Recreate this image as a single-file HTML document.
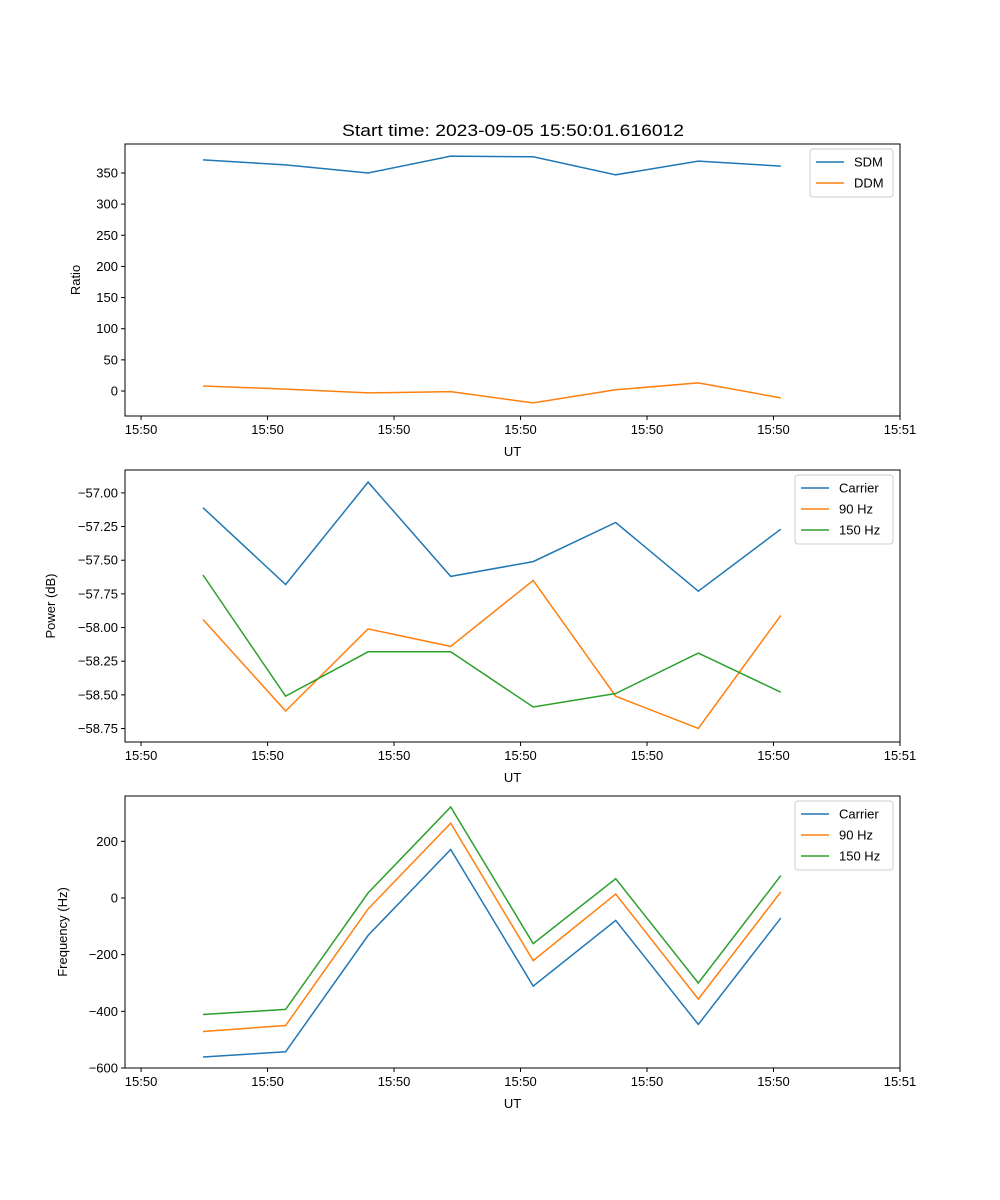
<!DOCTYPE html>
<html><head><meta charset="utf-8"><style>
html,body{margin:0;padding:0;background:#fff;}
svg{display:block;font-family:"Liberation Sans","DejaVu Sans",sans-serif;}
</style></head><body>
<svg id="fig" width="1000" height="1200" xmlns="http://www.w3.org/2000/svg">
<text x="513" y="136" font-size="17" text-anchor="middle" textLength="342" lengthAdjust="spacingAndGlyphs">Start time: 2023-09-05 15:50:01.616012</text>
</svg>
<script>
// shared x data (seconds relative to first tick)
const times = [4.9, 11.41, 17.92, 24.43, 30.94, 37.45, 43.96, 50.47];
const xTickVals = [0, 10, 20, 30, 40, 50, 60];
const xTickLabels = ["15:50","15:50","15:50","15:50","15:50","15:50","15:51"];

const sdm = [371, 363, 350, 377, 376, 347, 369, 361];
const ddm = [8, 3, -3, -1, -19, 2, 13, -11];
const ratioTicks = [0, 50, 100, 150, 200, 250, 300, 350];

const powCarrier = [-57.11, -57.68, -56.92, -57.62, -57.51, -57.22, -57.73, -57.27];
const pow90 = [-57.94, -58.62, -58.01, -58.14, -57.65, -58.51, -58.75, -57.91];
const pow150 = [-57.61, -58.51, -58.18, -58.18, -58.59, -58.49, -58.19, -58.48];
const powTicks = [-57.00, -57.25, -57.50, -57.75, -58.00, -58.25, -58.50, -58.75];

const freqCarrier = [-561, -543, -132, 171, -311, -79, -446, -71];
const freq90 = [-471, -450, -39, 264, -221, 14, -357, 21];
const freq150 = [-411, -393, 18, 321, -161, 68, -300, 79];
const freqTicks = [-600, -400, -200, 0, 200];

const NS = "http://www.w3.org/2000/svg";
const svg = document.getElementById("fig");
function mk(tag, attrs, parent){const e=document.createElementNS(NS,tag);for(const k in attrs)e.setAttribute(k,attrs[k]);(parent||svg).appendChild(e);return e;}

const L=125,R=900;
const xMin=-1.27, xMax=60;
function xs(t){return L+(t-xMin)/(xMax-xMin)*(R-L);}
function xd(t){return xs(t)+(t-times[0])*0.03;}

function panel(name, top, bottom, yMin, yMax, yTicks, fmt, ylabel, series, legend){
  const g=mk("g",{});
  
  
  const ys=v=>bottom-(v-yMin)/(yMax-yMin)*(bottom-top);
  series.forEach(s=>{
    const p=mk("polyline",{fill:"none",stroke:s.color,"stroke-width":1.5,points:s.data.map((v,i)=>xd(times[i]).toFixed(1)+","+ys(v).toFixed(1)).join(" ")},g);
    
    
  });
  const frame=mk("rect",{x:L,y:top,width:R-L,height:bottom-top,fill:"none",stroke:"#000","stroke-width":1},g);
  
  
  xTickVals.forEach((t,i)=>{
    const x=xs(t);
    mk("line",{x1:x,x2:x,y1:bottom,y2:bottom+4,stroke:"#000"},g);
    const tx=mk("text",{x:x,y:bottom+18,"font-size":13,"text-anchor":"middle"},g);
    tx.textContent=xTickLabels[i];
    
    
  });
  const xl=mk("text",{x:(L+R)/2,y:bottom+40,"font-size":13,"text-anchor":"middle"},g);
  xl.textContent="UT";
  
  
  yTicks.forEach(v=>{
    const y=ys(v);
    mk("line",{x1:L-4,x2:L,y1:y,y2:y,stroke:"#000"},g);
    const tx=mk("text",{x:L-7,y:y+4.5,"font-size":13,"text-anchor":"end"},g);
    tx.textContent=fmt(v);
    
    
  });
  const yl=mk("text",{x:0,y:0,"font-size":13,"text-anchor":"middle",transform:`translate(${legend.ylx},${(top+bottom)/2}) rotate(-90)`},g);
  yl.textContent=ylabel;
  
  
  const lg=mk("g",{},g);
  
  
  mk("rect",{x:legend.x,y:top+5,width:R-7-legend.x,height:series.length*21+6,rx:3,fill:"#fff",stroke:"#ccc"},lg);
  series.forEach((s,i)=>{
    const yy=top+18+i*21;
    mk("line",{x1:legend.x+6,x2:legend.x+34,y1:yy,y2:yy,stroke:s.color,"stroke-width":1.5},lg);
    const t=mk("text",{x:legend.x+44,y:yy+4.5,"font-size":13},lg);
    t.textContent=s.label;
    
    
  });
}
const C1="#1f77b4",C2="#ff7f0e",C3="#2ca02c";
panel("ratio",144,416,-40.1,396.5,ratioTicks,v=>String(v),"Ratio",
  [{key:"sdm",label:"SDM",color:C1,data:sdm},{key:"ddm",label:"DDM",color:C2,data:ddm}],{x:810,ylx:80});
panel("power",470,742,-58.85,-56.83,powTicks,v=>"\u2212"+Math.abs(v).toFixed(2),"Power (dB)",
  [{key:"carrier",label:"Carrier",color:C1,data:powCarrier},{key:"90hz",label:"90 Hz",color:C2,data:pow90},{key:"150hz",label:"150 Hz",color:C3,data:pow150}],{x:795,ylx:55});
panel("frequency",796,1068,-600,360,freqTicks,v=>(v<0?"\u2212":"")+Math.abs(v),"Frequency (Hz)",
  [{key:"carrier",label:"Carrier",color:C1,data:freqCarrier},{key:"90hz",label:"90 Hz",color:C2,data:freq90},{key:"150hz",label:"150 Hz",color:C3,data:freq150}],{x:795,ylx:67});
</script>
</body></html>
